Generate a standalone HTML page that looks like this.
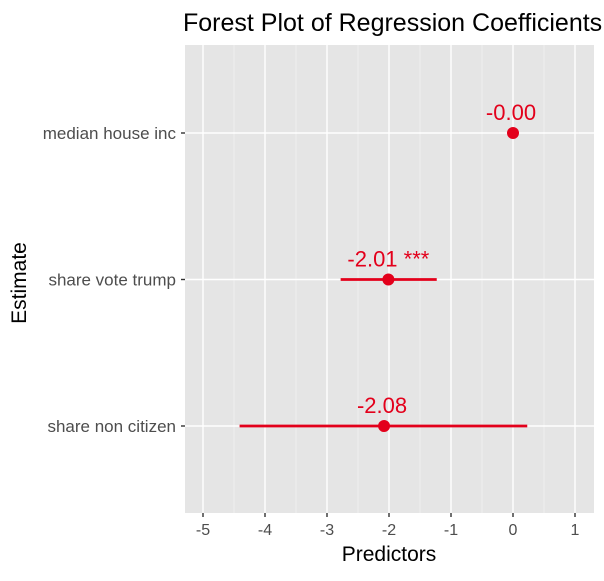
<!DOCTYPE html>
<html><head><meta charset="utf-8"><style>
body{margin:0;background:#fff;width:604px;height:576px;overflow:hidden;font-family:"Liberation Sans",sans-serif}
</style></head><body>
<svg id="chart" width="604" height="576" xmlns="http://www.w3.org/2000/svg" font-family="Liberation Sans, sans-serif">
<text x="183" y="31" font-size="25" fill="#000">Forest Plot of Regression Coefficients</text>
<rect x="185" y="45" width="409" height="468" fill="#e5e5e5"/>
<g id="grid"></g><g id="marks"></g><g id="axes"></g>
<text x="389" y="561" font-size="21" text-anchor="middle" fill="#000">Predictors</text>
<text transform="translate(26,283) rotate(-90)" font-size="21" text-anchor="middle" fill="#000">Estimate</text>
</svg>
<script>
const categories=["median house inc","share vote trump","share non citizen"];
const estimates=[0.00,-2.01,-2.08];
const lowers=[-0.01,-2.78,-4.41];
const uppers=[0.01,-1.23,0.23];
const labels=["-0.00","-2.01 ***","-2.08"];
const xTicks=[-5,-4,-3,-2,-1,0,1];
const NS="http://www.w3.org/2000/svg";
const x=v=>513+v*62;
const y=i=>133+i*146.5;
function mk(tag,attrs,parent){const e=document.createElementNS(NS,tag);for(const k in attrs)e.setAttribute(k,attrs[k]);parent.appendChild(e);return e;}
const grid=document.getElementById('grid'),marks=document.getElementById('marks'),axes=document.getElementById('axes');
for(let t=-5.5;t<=1.5;t+=1){if(x(t)>185&&x(t)<594){const l=mk('line',{x1:x(t),x2:x(t),y1:45,y2:513,stroke:'#f2f2f2','stroke-width':0.7},grid);

}}
xTicks.forEach(t=>{const l=mk('line',{x1:x(t),x2:x(t),y1:45,y2:513,stroke:'#fff','stroke-width':1.4},grid);


const tk=mk('line',{x1:x(t),x2:x(t),y1:513,y2:517,stroke:'#333','stroke-width':1.4},axes);


const tx=mk('text',{x:x(t),y:535,'font-size':16,'text-anchor':'middle',fill:'#4d4d4d'},axes);tx.textContent=t;

});
categories.forEach((c,i)=>{const g=mk('line',{x1:185,x2:594,y1:y(i),y2:y(i),stroke:'#fff','stroke-width':1.4},grid);


const tk=mk('line',{x1:181,x2:185,y1:y(i),y2:y(i),stroke:'#333','stroke-width':1.4},axes);


const tx=mk('text',{x:176,y:y(i)+6,'font-size':17,'text-anchor':'end',fill:'#4d4d4d'},axes);tx.textContent=c;


const ci=mk('line',{x1:x(lowers[i]),x2:x(uppers[i]),y1:y(i),y2:y(i),stroke:'#e3001b','stroke-width':2.8},marks);


const p=mk('circle',{cx:x(estimates[i]),cy:y(i),r:6,fill:'#e3001b'},marks);


const lb=mk('text',{x:x(estimates[i])+(i==1?0:-2),y:y(i)-13,'font-size':22,'text-anchor':'middle',fill:'#e3001b'},marks);lb.textContent=labels[i];

});
</script>
</body></html>
